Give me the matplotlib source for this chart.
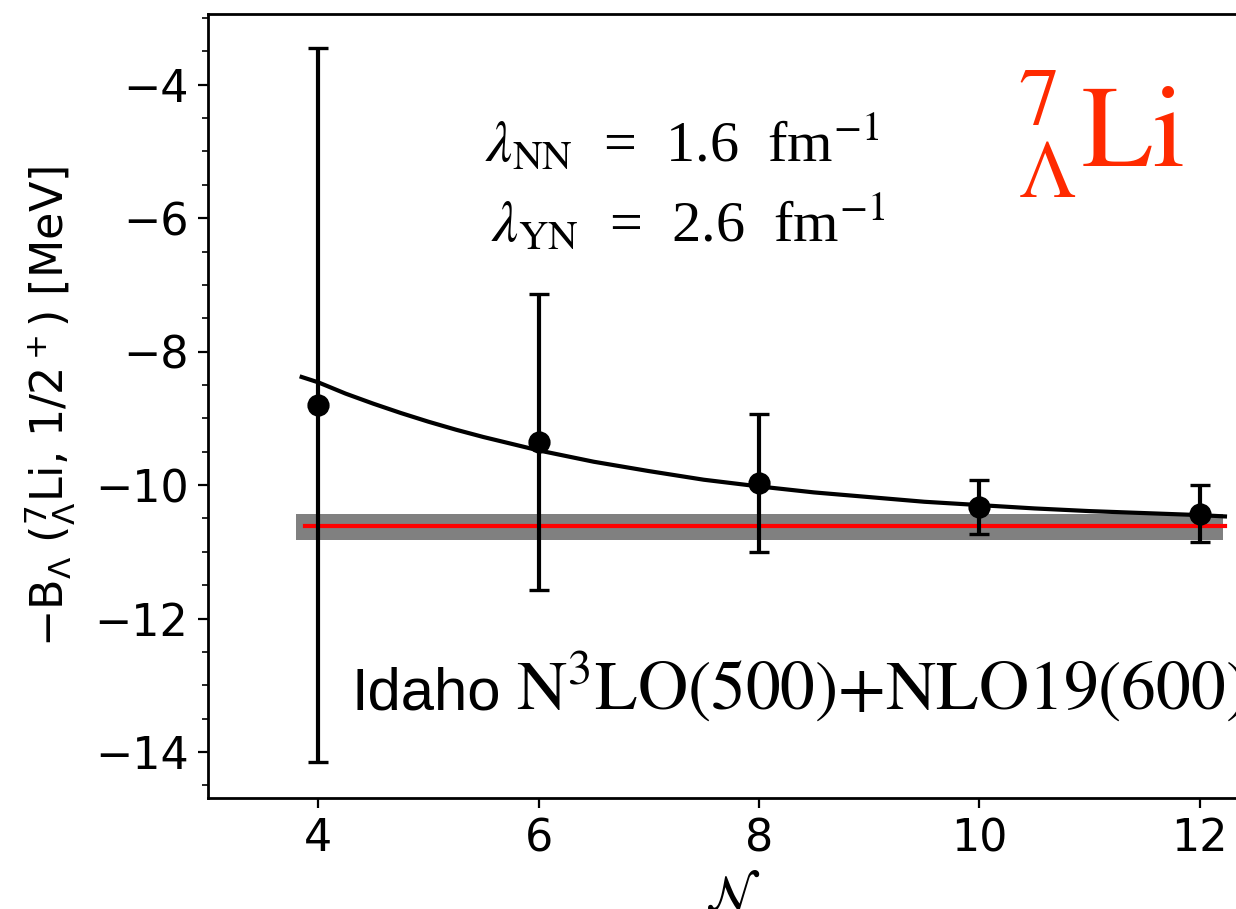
import numpy as np
import matplotlib
matplotlib.use("Agg")
import matplotlib.pyplot as plt

# ---- data ----
n_hw = [4, 6, 8, 10, 12]
energies = [-8.80, -9.35, -9.97, -10.33, -10.43]
errors = [5.35, 2.22, 1.04, 0.41, 0.43]

fit_x = [3.85, 4.0, 4.25, 4.5, 4.75, 5.0, 5.25, 5.5, 6.0, 6.5, 7.0, 7.5, 8.0, 8.5,
         9.0, 9.5, 10.0, 10.5, 11.0, 11.5, 12.0, 12.23]
fit_y = [-8.38, -8.46, -8.63, -8.78, -8.92, -9.05, -9.17, -9.28, -9.48, -9.65,
         -9.79, -9.92, -10.02, -10.11, -10.18, -10.25, -10.30, -10.35, -10.39,
         -10.42, -10.45, -10.47]

extrap_value = -10.62
band_low, band_high = -10.82, -10.44
band_x = [3.80, 12.21]
line_x = [3.88, 12.23]

xticks = [4, 6, 8, 10, 12]
yticks = [-14, -12, -10, -8, -6, -4]

fig = plt.figure(figsize=(6.18, 4.545), dpi=200)
ax = fig.add_axes([208/1236, 1-798/909, (1258-208)/1236, (798-14)/909])

ax.fill_between(band_x, [band_low]*2, [band_high]*2, color='#808080', lw=0, zorder=1)
ax.plot(line_x, [extrap_value]*2, color='red', lw=1.5, zorder=2)
ax.plot(fit_x, fit_y, color='black', lw=1.5, zorder=3)
ax.errorbar(n_hw, energies, yerr=errors, fmt='o', color='black', ms=7,
            elinewidth=1.5, capsize=3.5, capthick=1.2, zorder=4)

ax.set_xlim(3, 12.53)
ax.set_ylim(-14.69, -2.94)
ax.set_xticks(xticks)
ax.set_yticks(yticks)
ax.yaxis.set_minor_locator(matplotlib.ticker.MultipleLocator(0.5))
ax.tick_params(labelsize=16)
for s in ax.spines.values():
    s.set_linewidth(1.0)

ax.set_ylabel(r'$-\mathrm{B}_{\Lambda}$ ($^{7}_{\Lambda}$Li, 1/2$^+$) [MeV]', fontsize=16,
              labelpad=6)
ax.set_xlabel(r'$\mathcal{N}$', fontsize=18, math_fontfamily='stix', labelpad=4)

serif = ['Liberation Serif', 'DejaVu Serif']
ax.text(5.51, -5.15, r'$\lambda_{\mathrm{NN}}$  =  1.6  fm$^{-1}$', fontsize=21,
        family=serif, math_fontfamily='stix', ha='left', va='baseline')
ax.text(5.57, -6.35, r'$\lambda_{\mathrm{YN}}$  =  2.6  fm$^{-1}$', fontsize=21,
        family=serif, math_fontfamily='stix', ha='left', va='baseline')
ax.text(10.34, -5.24, r'$^{7}_{\Lambda}\mathrm{Li}$', fontsize=42, color='#ff2a00',
        math_fontfamily='stix', ha='left', va='baseline')
ax.text(4.30, -13.36, 'Idaho', fontsize=21.5,
        family=['Liberation Sans', 'DejaVu Sans'], ha='left', va='baseline')
ax.text(5.80, -13.36, r'$\mathrm{N^{3}LO(500){+}NLO19(600)}$', fontsize=25,
        math_fontfamily='stix', ha='left', va='baseline')

fig.savefig('out.png', dpi=200)
